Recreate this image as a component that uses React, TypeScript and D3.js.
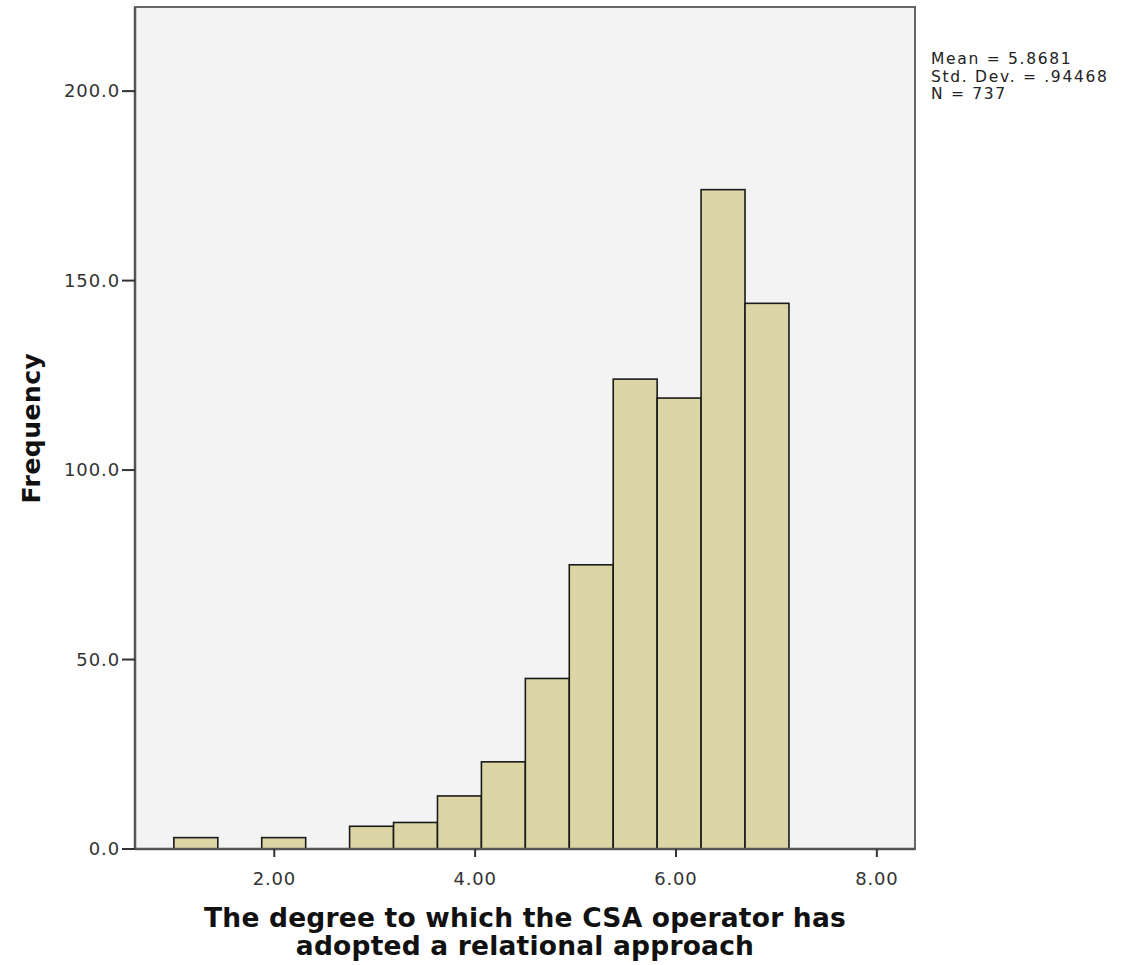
import React from "react";
import * as d3 from "d3";

const binStart = 1.0;
const binWidth = 0.4375;
const binCounts = [3, 0, 3, 0, 6, 7, 14, 23, 45, 75, 124, 119, 174, 144];
const xTicks = [2, 4, 6, 8];
const yTicks = [0, 50, 100, 150, 200];
const statsLines = ["Mean = 5.8681", "Std. Dev. = .94468", "N = 737"];
const xTitleLines = ["The degree to which the CSA operator has", "adopted a relational approach"];
const yTitle = "Frequency";

export default function App() {
  const W = 1128, H = 965;
  const left = 135, right = 915, top = 7, bottom = 849;
  const x = d3.scaleLinear().domain([0.613, 8.38]).range([left, right]);
  const y = d3.scaleLinear().domain([0, 222.2]).range([bottom, top]);
  const font = "'DejaVu Sans', sans-serif";
  const bins = binCounts.map((c, i) => ({ x0: binStart + i * binWidth, x1: binStart + (i + 1) * binWidth, c }));
  return (
    <svg width={W} height={H} style={{ position: "absolute", left: 0, top: 0, background: "#fff" }}>
      <rect x={left} y={top} width={right - left} height={bottom - top} fill="#f3f3f3" stroke="#666" strokeWidth={2} />
      {bins.filter(b => b.c > 0).map((b, i) => (
        <rect key={i} x={x(b.x0)} y={y(b.c)} width={x(b.x1) - x(b.x0)} height={y(0) - y(b.c)}
          fill="#dcd5a5" stroke="#1a1a1a" strokeWidth={1.6} />
      ))}
      <line x1={left} x2={left} y1={top} y2={bottom} stroke="#555" strokeWidth={2.5} />
      <line x1={left} x2={right} y1={bottom} y2={bottom} stroke="#555" strokeWidth={2.5} />
      {yTicks.map(t => (
        <g key={t}>
          <line x1={left - 13} x2={left} y1={y(t)} y2={y(t)} stroke="#333" strokeWidth={2} />
          <text x={left - 15} y={y(t)} dy="0.35em" textAnchor="end" fontFamily={font} fontSize={18}
            fill="#333" letterSpacing={0.9}>{t.toFixed(1)}</text>
        </g>
      ))}
      {xTicks.map(t => (
        <g key={t}>
          <line x1={x(t)} x2={x(t)} y1={bottom} y2={bottom + 8} stroke="#333" strokeWidth={2} />
          <text x={x(t)} y={885} textAnchor="middle" fontFamily={font} fontSize={18}
            fill="#333" letterSpacing={0.8}>{t.toFixed(2)}</text>
        </g>
      ))}
      {statsLines.map((s, i) => (
        <text key={i} x={931} y={64 + i * 17.5} fontFamily={font} fontSize={15.5} fill="#222"
          letterSpacing={1.7}>{s}</text>
      ))}
      {xTitleLines.map((s, i) => (
        <text key={i} x={525} y={927 + i * 28} textAnchor="middle" fontFamily={font} fontSize={26.5}
          fontWeight="bold" fill="#111" letterSpacing={0.2}>{s}</text>
      ))}
      <text transform={`translate(40,428) rotate(-90)`} textAnchor="middle" fontFamily={font} fontSize={25}
        fontWeight="bold" fill="#111" letterSpacing={0.5}>{yTitle}</text>
    </svg>
  );
}
